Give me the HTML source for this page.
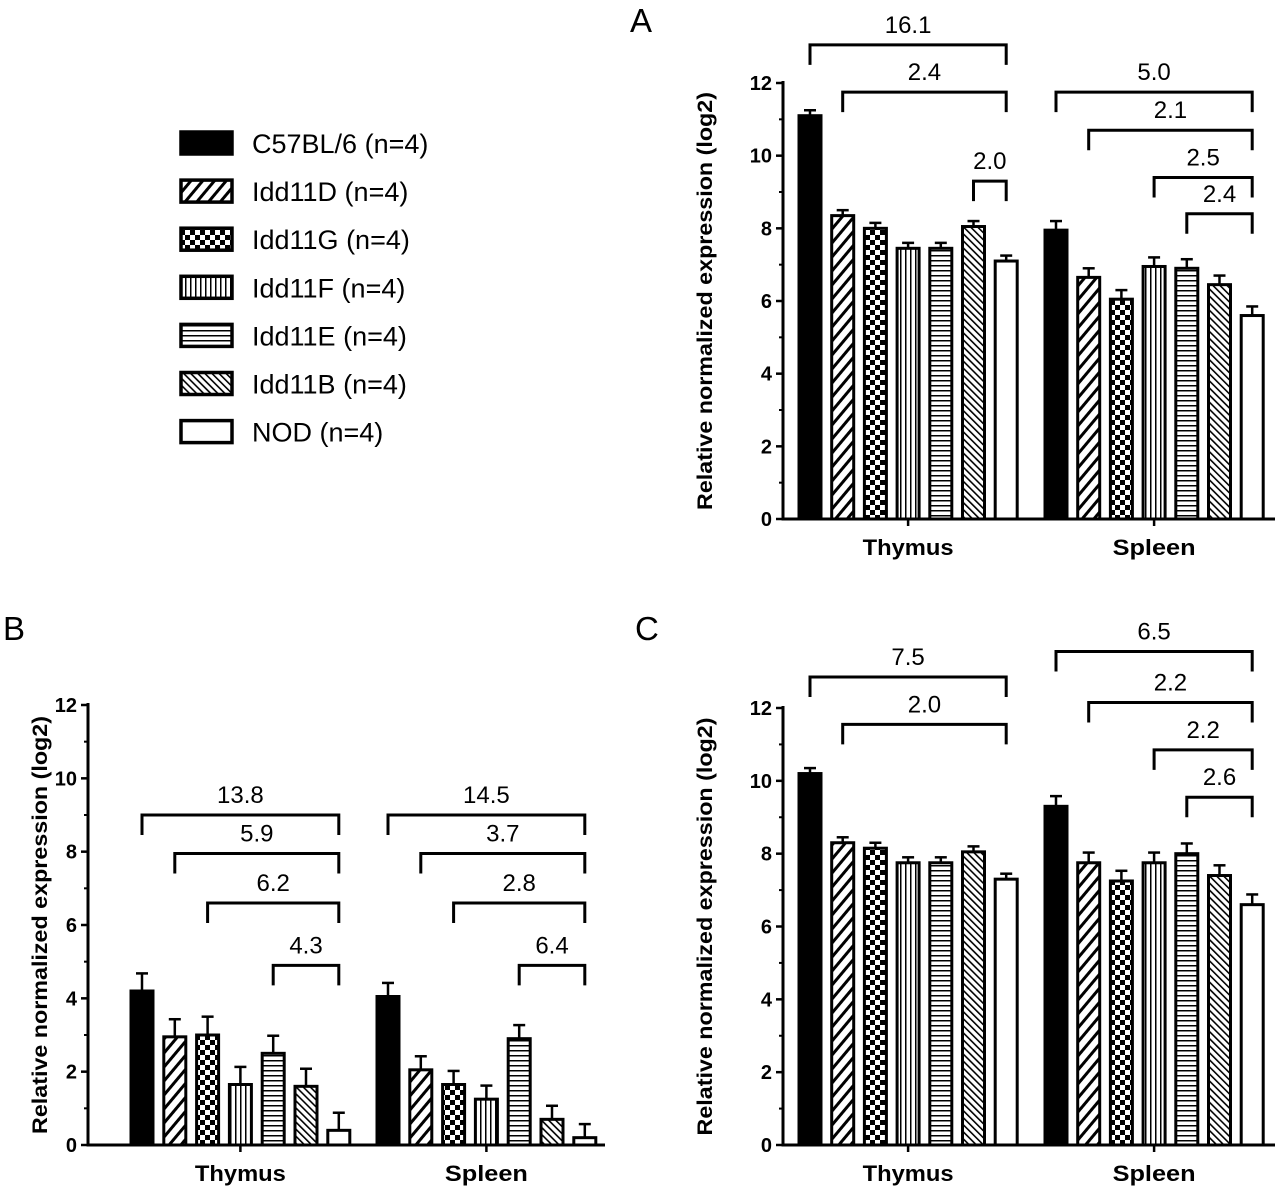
<!DOCTYPE html>
<html><head><meta charset="utf-8"><style>
body{margin:0;background:#fff;}
svg text{font-family:"Liberation Sans",Arial,sans-serif;}
</style></head><body>
<svg id="s" width="1280" height="1188" viewBox="0 0 1280 1188" xmlns="http://www.w3.org/2000/svg">
<defs>
<pattern id="p1" patternUnits="userSpaceOnUse" width="9" height="9" patternTransform="rotate(40)"><rect width="9" height="9" fill="#fff"/><rect width="3" height="9" fill="#000"/></pattern>
<pattern id="p2" patternUnits="userSpaceOnUse" width="10" height="10"><rect width="10" height="10" fill="#fff"/><rect width="5" height="5" fill="#000"/><rect x="5" y="5" width="5" height="5" fill="#000"/></pattern>
<pattern id="p3" patternUnits="userSpaceOnUse" width="5" height="5"><rect width="5" height="5" fill="#fff"/><rect width="1.5" height="5" fill="#000"/></pattern>
<pattern id="p4" patternUnits="userSpaceOnUse" width="5" height="5"><rect width="5" height="5" fill="#fff"/><rect width="5" height="1.5" fill="#000"/></pattern>
<pattern id="p5" patternUnits="userSpaceOnUse" width="5" height="5" patternTransform="rotate(-45)"><rect width="5" height="5" fill="#fff"/><rect width="1.6" height="5" fill="#000"/></pattern>
</defs>
</svg>
<script>
const seriesNames=["C57BL/6 (n=4)","Idd11D (n=4)","Idd11G (n=4)","Idd11F (n=4)","Idd11E (n=4)","Idd11B (n=4)","NOD (n=4)"];
const groups=["Thymus","Spleen"];
const yTicks=[0,2,4,6,8,10,12];
const aThymus=[11.1,8.35,8.0,7.45,7.45,8.05,7.1];
const aThymusErr=[0.15,0.15,0.15,0.15,0.15,0.15,0.15];
const aSpleen=[7.95,6.65,6.05,6.95,6.9,6.45,5.6];
const aSpleenErr=[0.25,0.25,0.25,0.25,0.25,0.25,0.25];
const bThymus=[4.2,2.95,3.0,1.65,2.5,1.6,0.4];
const bThymusErr=[0.48,0.48,0.5,0.48,0.48,0.48,0.48];
const bSpleen=[4.05,2.05,1.65,1.25,2.9,0.7,0.2];
const bSpleenErr=[0.37,0.37,0.37,0.37,0.37,0.37,0.37];
const cThymus=[10.2,8.3,8.15,7.75,7.75,8.05,7.3];
const cThymusErr=[0.15,0.15,0.15,0.15,0.15,0.15,0.15];
const cSpleen=[9.3,7.75,7.25,7.75,8.0,7.4,6.6];
const cSpleenErr=[0.28,0.28,0.28,0.28,0.28,0.28,0.28];
// brackets: [group, fromBar, toBar, label, level]
const aBrackets=[[0,0,6,"16.1",13.05],[0,1,6,"2.4",11.75],[0,5,6,"2.0",9.3],[1,0,6,"5.0",11.75],[1,1,6,"2.1",10.7],[1,3,6,"2.5",9.4],[1,4,6,"2.4",8.4]];
const bBrackets=[[0,0,6,"13.8",9.0],[0,1,6,"5.9",7.95],[0,2,6,"6.2",6.6],[0,4,6,"4.3",4.9],[1,0,6,"14.5",9.0],[1,1,6,"3.7",7.95],[1,2,6,"2.8",6.6],[1,4,6,"6.4",4.9]];
const cBrackets=[[0,0,6,"7.5",12.85],[0,1,6,"2.0",11.55],[1,0,6,"6.5",13.55],[1,1,6,"2.2",12.15],[1,3,6,"2.2",10.85],[1,4,6,"2.6",9.55]];
const fills=["#000","url(#p1)","url(#p2)","url(#p3)","url(#p4)","url(#p5)","#fff"];
const groupLabelWidths=[91,83];
const NS="http://www.w3.org/2000/svg";
const svg=document.getElementById('s');
function mk(t,a,p){const e=document.createElementNS(NS,t);for(const k in a)e.setAttribute(k,a[k]);(p||svg).appendChild(e);return e;}
function panel(P){
 const g=mk('g',{});
 
 
 const y=v=>P.y0-(v/12)*(P.y0-P.y12);
 const bx=(gi,i)=>P.gx[gi]+i*P.step;
 [P.d0,P.d1].forEach((d,gi)=>{const er=gi?P.e1:P.e0;d.forEach((v,i)=>{
  const cx=bx(gi,i);
  const l=mk('line',{x1:cx,x2:cx,y1:y(v),y2:y(v+er[i]),stroke:'#000','stroke-width':2.5},g);
  
  const c=mk('line',{x1:cx-6,x2:cx+6,y1:y(v+er[i]),y2:y(v+er[i]),stroke:'#000','stroke-width':2.5},g);
  
  const r=mk('rect',{x:cx-11,y:y(v),width:22,height:y(0)-y(v),fill:fills[i],stroke:'#000','stroke-width':3},g);
  
 });});
 const ax=mk('path',{d:`M${P.ax} ${P.y12-2}V${P.y0}H${P.xEnd}`,fill:'none',stroke:'#000','stroke-width':3},g);
 
 yTicks.forEach(t=>{
  mk('line',{x1:P.ax-7,x2:P.ax,y1:y(t),y2:y(t),stroke:'#000','stroke-width':2.5},g);
  if(t<12) mk('line',{x1:P.ax-4,x2:P.ax,y1:y(t+1),y2:y(t+1),stroke:'#000','stroke-width':2},g);
  const tx=mk('text',{x:P.ax-11,y:y(t)+7,'text-anchor':'end','font-size':20,'font-weight':'bold'},g);tx.textContent=t;
  
 });
 groups.forEach((nm,gi)=>{
  const cx=(bx(gi,0)+bx(gi,6))/2;
  mk('line',{x1:cx,x2:cx,y1:P.y0,y2:P.y0+7,stroke:'#000','stroke-width':2.5},g);
  const t=mk('text',{x:cx,y:P.y0+36,'text-anchor':'middle','font-size':22,'font-weight':'bold',textLength:groupLabelWidths[gi],lengthAdjust:'spacingAndGlyphs'},g);t.textContent=nm;
  
 });
 const yt=mk('text',{x:0,y:0,'text-anchor':'middle','font-size':21,'font-weight':'bold',textLength:418,lengthAdjust:'spacingAndGlyphs',transform:`translate(${P.tx},${(P.y0+P.y12)/2}) rotate(-90)`},g);
 yt.textContent='Relative normalized expression (log2)';
 
 P.br.forEach(b=>{
  const x1=bx(b[0],b[1]),x2=bx(b[0],b[2]),yy=y(b[4]);
  const p=mk('path',{d:`M${x1} ${yy+20}V${yy}H${x2}V${yy+20}`,fill:'none',stroke:'#000','stroke-width':3},g);
  
  const t=mk('text',{x:(x1+x2)/2,y:yy-12,'text-anchor':'middle','font-size':24},g);t.textContent=b[3];
  
 });
 const L=mk('text',{x:P.lx,y:P.ly,'font-size':33},g);L.textContent=P.letter;
 
}
panel({name:'panel-a',letter:'A',lx:630,ly:32,ax:783,tx:712,y0:519,y12:83,xEnd:1275,gx:[810,1056],step:32.7,d0:aThymus,e0:aThymusErr,d1:aSpleen,e1:aSpleenErr,br:aBrackets});
panel({name:'panel-b',letter:'B',lx:3,ly:640,ax:88,tx:47,y0:1145,y12:705,xEnd:605,gx:[142,388],step:32.8,d0:bThymus,e0:bThymusErr,d1:bSpleen,e1:bSpleenErr,br:bBrackets});
panel({name:'panel-c',letter:'C',lx:635,ly:640,ax:783,tx:712,y0:1145,y12:708,xEnd:1275,gx:[810,1056],step:32.7,d0:cThymus,e0:cThymusErr,d1:cSpleen,e1:cSpleenErr,br:cBrackets});
const lg=mk('g',{});


seriesNames.forEach((n,i)=>{
 const cy=143+i*48.1;
 const r=mk('rect',{x:181,y:cy-11,width:51,height:22,fill:fills[i],stroke:'#000','stroke-width':3.5},lg);
 
 const t=mk('text',{x:252,y:cy+10,'font-size':27},lg);t.textContent=n;
 
});
</script>
</body></html>
